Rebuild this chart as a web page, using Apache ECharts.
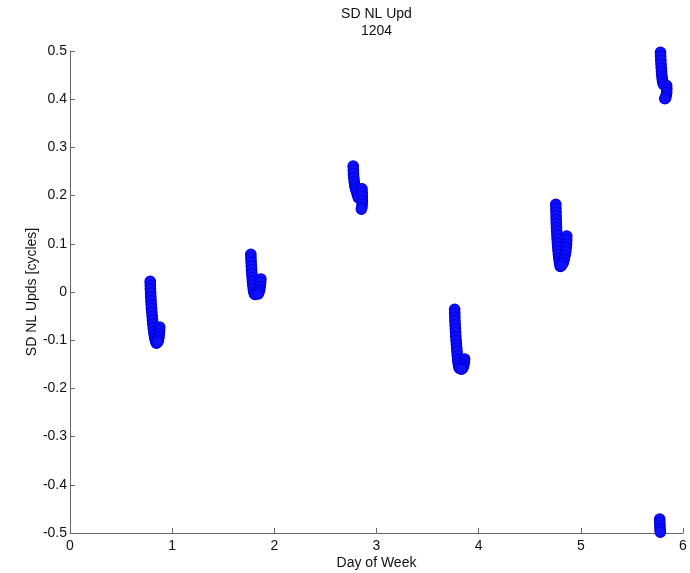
<!DOCTYPE html>
<html>
<head>
<meta charset="utf-8">
<script src="https://cdn.jsdelivr.net/npm/echarts@6/dist/echarts.min.js"></script>
<style>
html,body{margin:0;padding:0;background:#fff;}
#chart{width:690px;height:573px;}
</style>
</head>
<body>
<div id="chart"></div>
<script>
// Day-of-week (x) and SD NL update value in cycles (y)
var day1 = [[0.785,0.022],[0.786,0.014],[0.787,0.006],[0.789,-0.002],[0.791,-0.010],[0.793,-0.018],[0.795,-0.026],[0.798,-0.034],[0.801,-0.042],[0.804,-0.050],[0.807,-0.058],[0.811,-0.066],[0.815,-0.074],[0.820,-0.082],[0.825,-0.089],[0.830,-0.095],[0.836,-0.100],[0.842,-0.104],[0.846,-0.106],
            [0.878,-0.073],[0.877,-0.080],[0.874,-0.087],[0.870,-0.094],[0.865,-0.100],[0.858,-0.104]];
var day2 = [[1.770,0.078],[1.771,0.070],[1.773,0.062],[1.775,0.054],[1.777,0.046],[1.780,0.038],[1.783,0.030],[1.786,0.022],[1.790,0.014],[1.794,0.007],[1.799,0.001],[1.805,-0.003],[1.810,-0.005],
            [1.868,0.027],[1.866,0.020],[1.862,0.012],[1.857,0.005],[1.850,0.000],[1.842,-0.004]];
var day3 = [[2.772,0.261],[2.773,0.253],[2.775,0.245],[2.778,0.237],[2.782,0.229],[2.787,0.222],[2.793,0.216],[2.800,0.211],[2.808,0.206],[2.815,0.201],[2.822,0.196],
            [2.858,0.214],[2.860,0.206],[2.861,0.198],[2.861,0.190],[2.860,0.183],[2.857,0.176],[2.852,0.172]];
var day4 = [[3.765,-0.036],[3.766,-0.044],[3.767,-0.052],[3.768,-0.060],[3.770,-0.068],[3.772,-0.076],[3.774,-0.084],[3.776,-0.092],[3.779,-0.100],[3.782,-0.108],[3.785,-0.116],[3.788,-0.124],[3.791,-0.132],[3.795,-0.140],[3.799,-0.147],[3.804,-0.153],[3.810,-0.158],
            [3.862,-0.139],[3.860,-0.145],[3.855,-0.151],[3.848,-0.156],[3.840,-0.159],[3.830,-0.160]];
var day5 = [[4.755,0.182],[4.756,0.174],[4.757,0.166],[4.758,0.158],[4.759,0.150],[4.760,0.142],[4.762,0.134],[4.764,0.126],[4.766,0.118],[4.768,0.110],[4.771,0.102],[4.774,0.094],[4.777,0.086],[4.781,0.078],[4.785,0.070],[4.790,0.063],[4.795,0.057],[4.800,0.053],
            [4.862,0.116],[4.862,0.108],[4.860,0.100],[4.857,0.092],[4.852,0.084],[4.846,0.076],[4.838,0.068],[4.828,0.061],[4.815,0.056]];
var day6 = [[5.780,0.497],[5.781,0.489],[5.783,0.481],[5.785,0.473],[5.787,0.465],[5.790,0.457],[5.793,0.449],[5.797,0.442],[5.802,0.436],[5.808,0.431],
            [5.840,0.428],[5.841,0.421],[5.840,0.414],[5.836,0.408],[5.830,0.403],[5.822,0.401]];
var day6low = [[5.772,-0.471],[5.773,-0.478],[5.774,-0.485],[5.776,-0.492],[5.778,-0.498]];

var xTicks = [0,1,2,3,4,5,6];
var yTicks = [-0.5,-0.4,-0.3,-0.2,-0.1,0,0.1,0.2,0.3,0.4,0.5];
var titleLines = ['SD NL Upd','1204'];
var xName = 'Day of Week';
var yName = 'SD NL Upds [cycles]';

var allPoints = [].concat(day1, day2, day3, day4, day5, day6, day6low);

var chart = echarts.init(document.getElementById('chart'), null, {renderer:'canvas'});
var font = 'Liberation Sans, Arial, Helvetica, sans-serif';
var gridLeft = 70, gridRight = 7, gridTop = 51, gridBottom = 40;
var plotCenter = gridLeft + (690 - gridLeft - gridRight) / 2;

chart.setOption({
  animation: false,
  backgroundColor: '#ffffff',
  graphic: [
    {type:'text', x: plotCenter, y: 14, style:{text:titleLines[0], fill:'#111', font:'14px ' + font, textAlign:'center', textVerticalAlign:'middle'}},
    {type:'text', x: plotCenter, y: 31, style:{text:titleLines[1], fill:'#111', font:'14px ' + font, textAlign:'center', textVerticalAlign:'middle'}}
  ],
  grid: {left: gridLeft, right: gridRight, top: gridTop, bottom: gridBottom, containLabel:false, outerBoundsMode:'none'},
  xAxis: {
    type:'value', min: xTicks[0], max: xTicks[xTicks.length-1], interval: 1,
    name: xName, nameLocation:'middle', nameGap: 23, nameMoveOverlap: false,
    nameTextStyle:{fontFamily: font, fontSize:14, color:'#111'},
    axisLine:{show:true, onZero:false, lineStyle:{color:'#666', width:1}},
    axisTick:{show:true, inside:true, length:5, lineStyle:{color:'#666'}},
    axisLabel:{fontFamily: font, fontSize:14, color:'#111', margin:6},
    splitLine:{show:false}
  },
  yAxis: {
    type:'value', min: yTicks[0], max: yTicks[yTicks.length-1], interval: 0.1,
    name: yName, nameLocation:'middle', nameGap: 31, nameMoveOverlap: false,
    nameTextStyle:{fontFamily: font, fontSize:14, color:'#111'},
    axisLine:{show:true, onZero:false, lineStyle:{color:'#666', width:1}},
    axisTick:{show:true, inside:true, length:5, lineStyle:{color:'#666'}},
    axisLabel:{fontFamily: font, fontSize:14, color:'#111', margin:3,
      formatter:function(v){ var r = Math.round(v*10)/10; return r === 0 ? '0' : String(r); }},
    splitLine:{show:false}
  },
  series: [{
    type:'scatter',
    data: allPoints,
    symbol:'circle',
    symbolSize: 10.5,
    clip: false,
    itemStyle:{color:'#1010ff', borderColor:'#0000e0', borderWidth:1.2, opacity:1}
  }]
});
</script>
</body>
</html>
